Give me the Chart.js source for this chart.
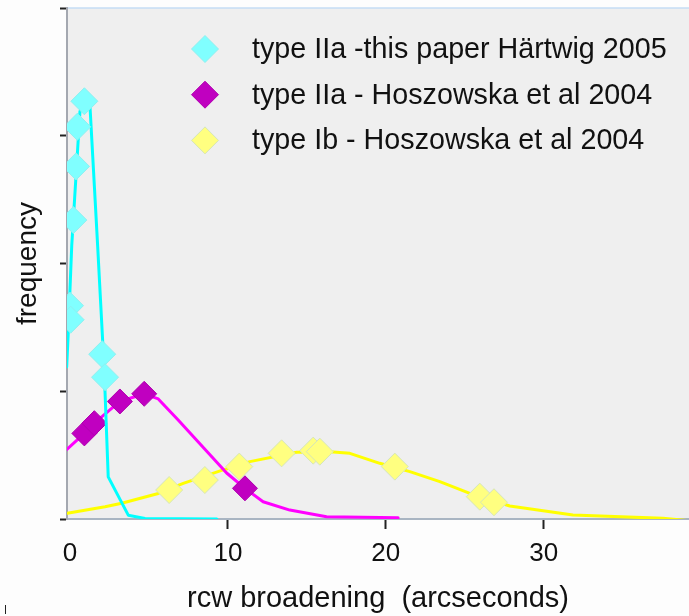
<!DOCTYPE html>
<html>
<head>
<meta charset="utf-8">
<script src="https://cdn.jsdelivr.net/npm/chart.js@4.4.1/dist/chart.umd.min.js"></script>
<style>
html,body{margin:0;padding:0;background:#fdfdfd;}
#wrap{width:689px;height:616px;position:relative;}
</style>
</head>
<body>
<div id="wrap"><canvas id="c" width="689" height="616"></canvas></div>
<script>
// ---- data ----
const xTickValues = [0, 10, 20, 30];
const seriesLabels = [
  'type IIa -this paper Härtwig 2005',
  'type IIa - Hoszowska et al 2004',
  'type Ib - Hoszowska et al 2004'
];
// type IIa, this paper (markers)
const hartwigX = [0.91, 0.46, 0.38, 0.21, 0.00, 0.04, 2.04, 2.22];
const hartwigY = [3.27, 3.07, 2.76, 2.34, 1.67, 1.56, 1.29, 1.11];
// type IIa, this paper (curve)
const hartwigCurveX = [-0.21, -0.11, 0.11, 0.63, 0.90, 1.27, 1.75, 2.07, 2.22, 2.42, 3.69, 4.75, 9.30];
const hartwigCurveY = [1.19, 1.46, 2.14, 3.19, 3.26, 3.22, 2.14, 1.39, 0.99, 0.33, 0.03, 0.004, 0];
// type IIa, Hoszowska (markers)
const hoszIIaX = [0.91, 1.54, 3.16, 4.70, 11.08];
const hoszIIaY = [0.67, 0.75, 0.92, 0.98, 0.24];
// type IIa, Hoszowska (curve)
const hoszIIaCurveX = [-0.25, 0.91, 1.54, 3.16, 4.70, 5.59, 6.85, 9.92, 11.08, 12.23, 13.92, 16.25, 20.78];
const hoszIIaCurveY = [0.54, 0.67, 0.75, 0.92, 0.98, 0.94, 0.775, 0.36, 0.24, 0.135, 0.07, 0.018, 0.01];
// type Ib, Hoszowska (markers)
const hoszIbX = [6.28, 8.54, 10.72, 13.40, 15.40, 15.82, 20.57, 25.95, 26.85];
const hoszIbY = [0.227, 0.305, 0.41, 0.514, 0.535, 0.527, 0.41, 0.175, 0.131];
// type Ib, Hoszowska (curve)
const hoszIbCurveX = [-0.17, 2.22, 3.27, 5.59, 7.17, 9.70, 11.39, 14.35, 16.46, 17.72, 19.62, 21.52, 23.42, 25.32, 27.85, 31.85, 37.55, 39.18];
const hoszIbCurveY = [0.045, 0.096, 0.123, 0.20, 0.279, 0.384, 0.449, 0.522, 0.527, 0.514, 0.436, 0.371, 0.292, 0.201, 0.102, 0.031, 0.005, -0.013];

const pts = (xs, ys) => xs.map((x, i) => ({x: x, y: ys[i]}));
const FONT = '"Liberation Sans", Arial, Helvetica, sans-serif';

function markerSet(label, xs, ys, fill, border, r) {
  return {label, data: pts(xs, ys), showLine: false, pointStyle: 'rectRot',
    pointRadius: r, pointHoverRadius: r, backgroundColor: fill, borderColor: border,
    pointBackgroundColor: fill, pointBorderColor: border, pointBorderWidth: 1, isMarker: true};
}
function curveSet(label, xs, ys, color) {
  return {label, data: pts(xs, ys), showLine: true, pointRadius: 0, pointHoverRadius: 0,
    borderColor: color, backgroundColor: color, borderWidth: 3, tension: 0, fill: false,
    borderJoinStyle: 'round', borderCapStyle: 'round'};
}

const datasets = [
  markerSet(seriesLabels[0], hartwigX, hartwigY, '#80ffff', '#8ef0f0', 13.5),
  curveSet(seriesLabels[0] + ' curve', hartwigCurveX, hartwigCurveY, '#00ffff'),
  markerSet(seriesLabels[1], hoszIIaX, hoszIIaY, '#c000c0', '#b000b0', 12.5),
  curveSet(seriesLabels[1] + ' curve', hoszIIaCurveX, hoszIIaCurveY, '#ff00ff'),
  markerSet(seriesLabels[2], hoszIbX, hoszIbY, '#ffff80', '#d6e6b8', 13.5),
  curveSet(seriesLabels[2] + ' curve', hoszIbCurveX, hoszIbCurveY, '#ffff00')
];

const bgPlugin = {
  id: 'bg',
  beforeDraw(chart) {
    const c = chart.ctx, a = chart.chartArea;
    c.save();
    c.fillStyle = '#fdfdfd';
    c.fillRect(0, 0, chart.width, chart.height);
    c.fillStyle = '#efefef';
    c.fillRect(a.left, a.top, a.right - a.left, a.bottom - a.top);
    c.strokeStyle = '#c4dcf4';
    c.lineWidth = 1.5;
    c.beginPath(); c.moveTo(a.left, a.top); c.lineTo(a.right, a.top); c.stroke();
    c.strokeStyle = '#222';
    c.lineWidth = 1;
    c.beginPath(); c.moveTo(5.5, 605); c.lineTo(5.5, 614); c.stroke();
    c.restore();
  }
};

const legendPlugin = {
  id: 'innerLegend',
  afterDraw(chart) {
    const c = chart.ctx;
    const items = chart.data.datasets.filter(d => d.isMarker);
    const x0 = 205, y0 = 49, dy = 45.7, r = 13.5;
    c.save();
    items.forEach((d, i) => {
      const y = y0 + i * dy;
      c.beginPath();
      c.moveTo(x0 - r, y); c.lineTo(x0, y - r); c.lineTo(x0 + r, y); c.lineTo(x0, y + r); c.closePath();
      c.fillStyle = d.pointBackgroundColor; c.fill();
      c.strokeStyle = d.pointBorderColor; c.lineWidth = 1; c.stroke();
      c.fillStyle = '#111';
      c.font = '28.7px ' + FONT;
      c.textBaseline = 'middle';
      c.textAlign = 'left';
      c.fillText(d.label, 252, y + 1);
    });
    c.restore();
  }
};

new Chart(document.getElementById('c'), {
  type: 'scatter',
  data: {datasets},
  plugins: [bgPlugin, legendPlugin],
  options: {
    responsive: false,
    animation: false,
    events: [],
    layout: {autoPadding: false, padding: {top: 8, left: 0, right: 0, bottom: 0}},
    plugins: {legend: {display: false}, tooltip: {enabled: false}},
    scales: {
      x: {
        type: 'linear', min: -0.19, max: 39.2,
        afterFit(s) { s.height = 97; s.paddingLeft = 0; s.paddingRight = 0; },
        afterBuildTicks(s) { s.ticks = xTickValues.map(v => ({value: v})); },
        grid: {drawOnChartArea: false, drawTicks: true, tickLength: 10, tickWidth: 2,
          tickColor: (ctx) => (ctx.tick && ctx.tick.value === 0) ? 'rgba(0,0,0,0)' : '#222'},
        border: {display: true, color: '#a9b5c2', width: 2},
        ticks: {color: '#111', padding: 9, font: {family: FONT, size: 26}, maxRotation: 0},
        title: {display: true, text: 'rcw broadening  (arcseconds)', color: '#111',
          font: {family: FONT, size: 29}, padding: {top: 0, bottom: 0}}
      },
      y: {
        type: 'linear', min: 0, max: 4,
        afterFit(s) { s.width = 67; s.paddingTop = 0; s.paddingBottom = 0; },
        ticks: {display: false, stepSize: 1},
        grid: {drawOnChartArea: false, drawTicks: true, tickLength: 7, tickWidth: 2, tickColor: '#222'},
        border: {display: true, color: '#a4a8b0', width: 2},
        title: {display: true, text: 'frequency', color: '#111',
          font: {family: FONT, size: 28}, padding: {top: 11, bottom: 0}}
      }
    }
  }
});
</script>
</body>
</html>
